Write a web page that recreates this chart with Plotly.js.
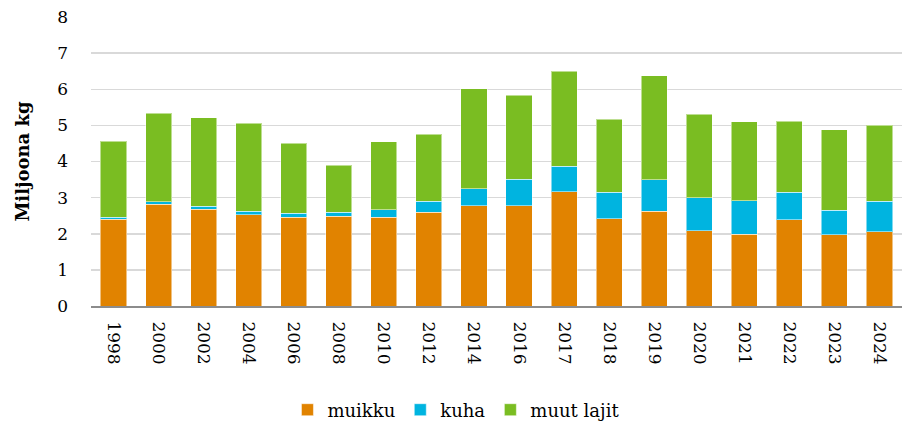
<!DOCTYPE html>
<html><head><meta charset="utf-8">
<script src="https://cdn.plot.ly/plotly-3.0.1.min.js"></script>
<style>html,body{margin:0;padding:0;background:#fff}#c{width:903px;height:424px}</style>
</head><body><div id="c"></div>
<script>
const years = ["1998","2000","2002","2004","2006","2008","2010","2012","2014","2016","2017","2018","2019","2020","2021","2022","2023","2024"];
const muikku = [2.40,2.81,2.68,2.53,2.46,2.49,2.45,2.59,2.78,2.78,3.16,2.41,2.62,2.08,1.98,2.39,1.97,2.06];
const kuha = [0.05,0.08,0.08,0.09,0.11,0.11,0.21,0.31,0.46,0.73,0.71,0.74,0.88,0.92,0.93,0.76,0.68,0.84];
const muut = [2.11,2.45,2.45,2.44,1.93,1.30,1.88,1.86,2.78,2.32,2.63,2.02,2.88,2.31,2.19,1.97,2.23,2.10];
const yTicks = [0,1,2,3,4,5,6,7,8];

const font = "DejaVu Serif, Liberation Serif, serif";
const mk = (name, y, color) => ({
  type: "bar", name: name, x: years, y: y,
  marker: {color: color, line: {color: "rgba(255,255,255,0.5)", width: 1}},
  hoverinfo: "none"
});
const data = [
  mk("muikku", muikku, "#E18300"),
  mk("kuha", kuha, "#00B4E0"),
  mk("muut lajit", muut, "#7ABD22")
];
const layout = {
  width: 903, height: 424,
  margin: {l: 91, r: 1, t: 17, b: 118},
  barmode: "stack", bargap: 0.42,
  paper_bgcolor: "#fff", plot_bgcolor: "#fff",
  font: {family: font, size: 17, color: "#000"},
  xaxis: {type: "category", tickangle: 90, showline: true, linecolor: "#8c8c8c", linewidth: 2,
    ticks: "", ticklabelstandoff: 10, showgrid: false, tickfont: {size: 17}, automargin: false},
  yaxis: {range: [0, 8], tickvals: yTicks, ticktext: yTicks.map(String), showgrid: true,
    gridcolor: "#d9d9d9", gridwidth: 1.5, zeroline: false, ticks: "", ticklabelstandoff: 22,
    tickfont: {size: 17}, automargin: false,
    title: {text: "<b>Miljoona kg</b>", font: {size: 18}, standoff: 22}},
  showlegend: true,
  legend: {orientation: "h", xref: "paper", x: 0.45, xanchor: "center",
    yref: "container", y: 0.033, yanchor: "middle",
    font: {size: 18}, traceorder: "normal", itemwidth: 30}
};
Plotly.newPlot("c", data, layout, {staticPlot: true});
</script></body></html>
